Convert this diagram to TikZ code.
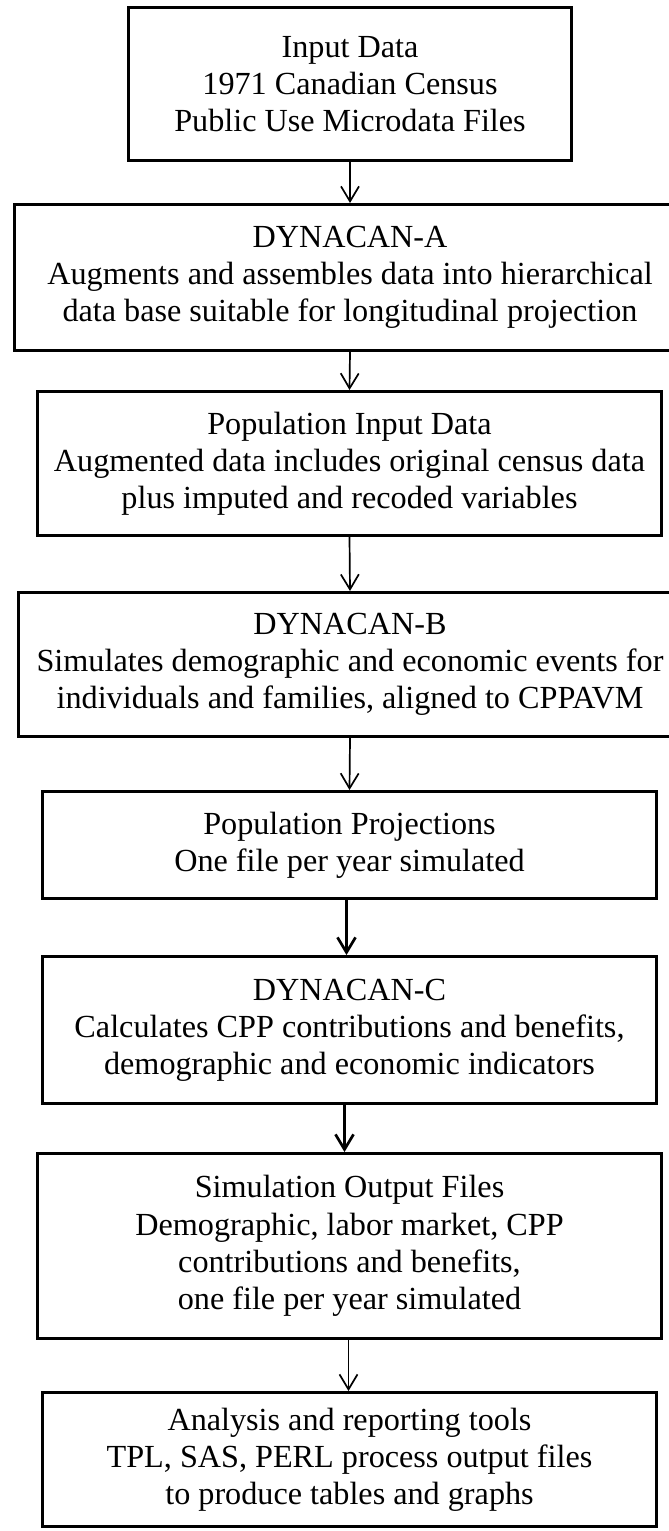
\documentclass[tikz,border=0pt]{standalone}
\usepackage{fontspec}
\setmainfont{Liberation Serif}
\usetikzlibrary{arrows.meta}

\tikzset{
  stage/.style={draw=black, line width=1.5pt, rectangle, inner sep=0pt,
    align=center, font=\fontsize{16.1}{18.6}\selectfont},
  flow/.style={draw=black, line width=0.85pt,
    -{Straight Barb[length=7.5pt, width=9pt, line width=0.85pt]}},
  flowheavy/.style={flow, line width=1.35pt,
    -{Straight Barb[length=7.5pt, width=9pt, line width=1.35pt]}}
}

\begin{document}
\begin{tikzpicture}[x=0.5pt, y=-0.5pt]
  \useasboundingbox (0,0) rectangle (669,1531);

  \node[stage, minimum width=221.5pt, minimum height=76.5pt] (input) at (350,84)
    {Input Data\\1971 Canadian Census\\Public Use Microdata Files};
  \node[stage, minimum width=335.5pt, minimum height=73pt] (dynA) at (350,277.5)
    {DYNACAN-A\\Augments and assembles data into hierarchical\\data base suitable for longitudinal projection};
  \node[stage, minimum width=312pt, minimum height=72pt] (popin) at (349.5,463.5)
    {Population Input Data\\Augmented data includes original census data\\plus imputed and recoded variables};
  \node[stage, minimum width=331.5pt, minimum height=72pt] (dynB) at (350,664.5)
    {DYNACAN-B\\Simulates demographic and economic events for\\individuals and families, aligned to CPPAVM};
  \node[stage, minimum width=307pt, minimum height=53.5pt] (popproj) at (349.5,845)
    {Population Projections\\One file per year simulated};
  \node[stage, minimum width=307pt, minimum height=73.5pt] (dynC) at (349.5,1030)
    {DYNACAN-C\\Calculates CPP contributions and benefits,\\demographic and economic indicators};
  \node[stage, minimum width=312pt, minimum height=92.5pt] (simout) at (349.5,1246)
    {Simulation Output Files\\Demographic, labor market, CPP\\contributions and benefits,\\one file per year simulated};
  \node[stage, minimum width=307pt, minimum height=67pt] (tools) at (349.5,1459.5)
    {Analysis and reporting tools\\TPL, SAS, PERL process output files\\to produce tables and graphs};

  \draw[flow] (input.south) -- (dynA.north);
  \draw[flow] (dynA.south) -- (popin.north);
  \draw[flow] (popin.south) -- (dynB.north);
  \draw[flow] (dynB.south) -- (popproj.north);
  \draw[flowheavy] ([xshift=-1.5pt]popproj.south) -- ([xshift=-1.5pt]dynC.north);
  \draw[flowheavy] ([xshift=-2.5pt]dynC.south) -- ([xshift=-2.5pt]simout.north);
  \draw[flow] ([xshift=-0.5pt]simout.south) -- ([xshift=-0.5pt]tools.north);
\end{tikzpicture}
\end{document}
